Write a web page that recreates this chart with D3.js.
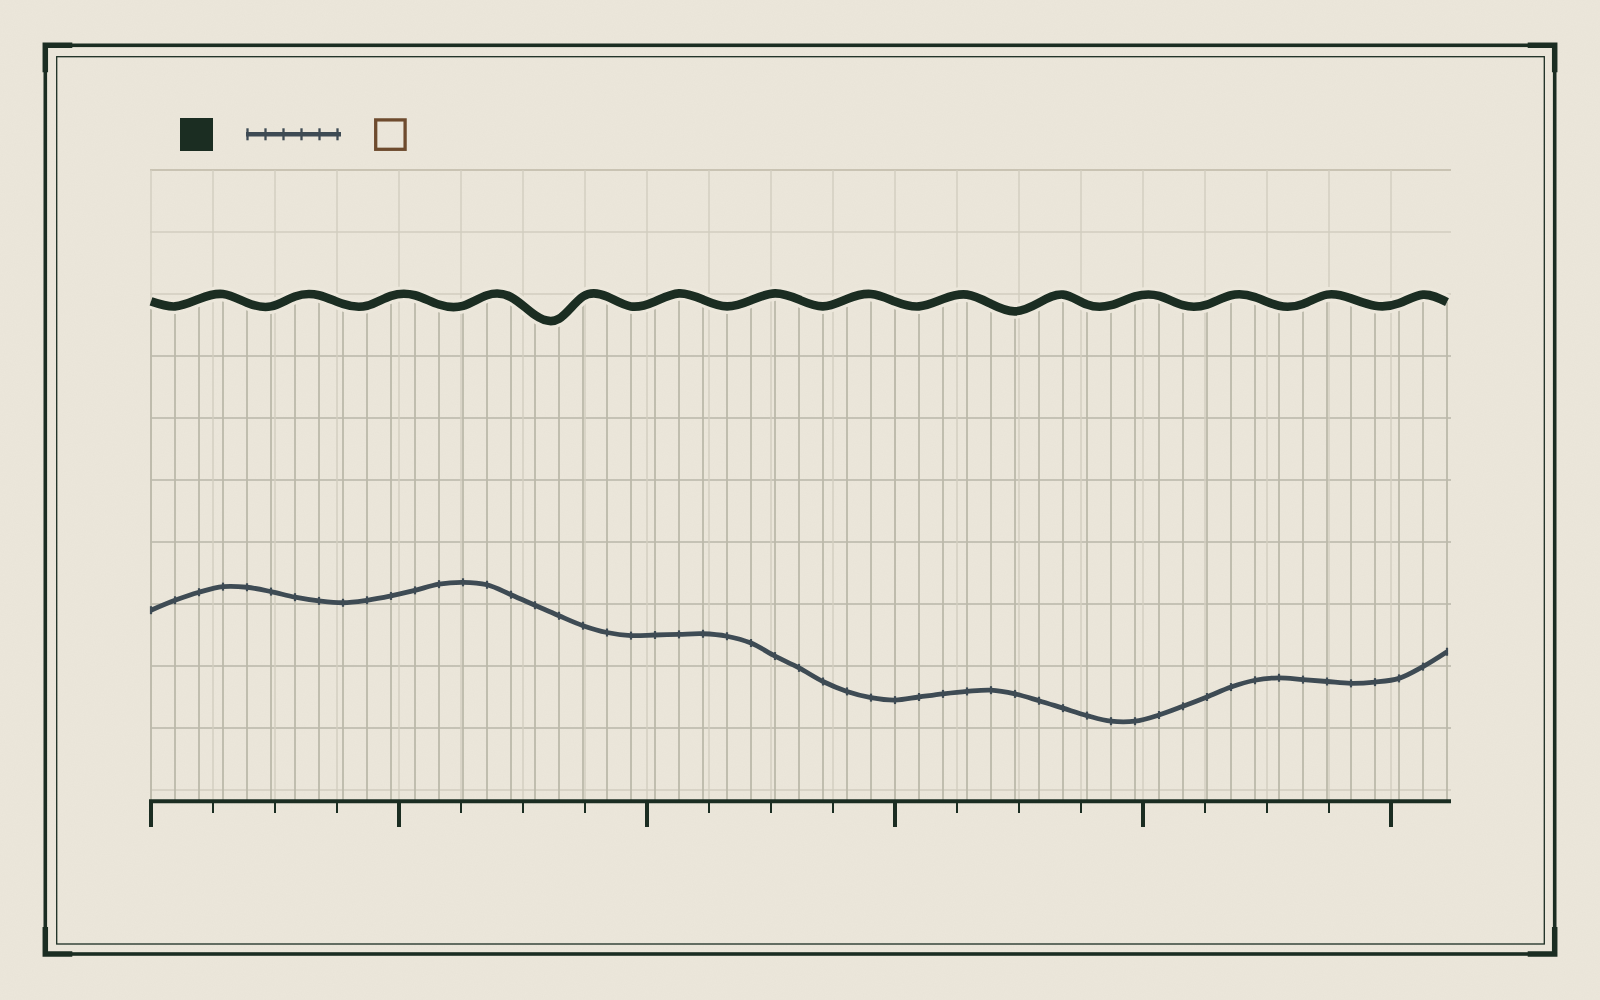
<!DOCTYPE html>
<html><head><meta charset="utf-8">
<script src="https://cdn.jsdelivr.net/npm/d3@7"></script>
<style>html,body{margin:0;padding:0;background:#ebe6da;} svg{display:block}</style>
</head><body>
<svg id="chart" width="1600" height="1000"></svg>
<script>
// ---------- DATA ----------
const pointIndex = d3.range(0, 55);            // 55 samples along x
const darkValues = [78.8,78.0,79.2,80.0,78.6,78.0,79.6,79.8,78.4,78.1,79.7,79.8,78.3,78.1,79.8,
  79.5,76.6,76.0,79.6,79.6,78.0,78.8,80.1,79.1,78.0,79.0,80.1,79.1,78.0,79.2,80.0,78.8,78.0,79.2,
  79.9,78.4,77.2,78.6,79.9,78.3,78.2,79.6,79.7,78.2,78.3,79.8,79.5,78.1,78.4,79.9,79.3,78.1,78.5,79.9,78.7];
const grayValues = [29.0,30.6,31.9,32.8,32.7,32.0,31.1,30.5,30.2,30.6,31.3,32.2,33.2,33.5,33.1,
  31.5,29.8,28.1,26.5,25.4,24.9,25.0,25.1,25.2,24.8,23.7,21.6,19.7,17.5,15.9,14.9,14.5,15.0,15.5,
  15.9,16.1,15.5,14.4,13.2,12.0,11.1,11.1,12.1,13.5,15.0,16.6,17.7,18.1,17.8,17.5,17.2,17.4,18.0,19.9,22.3];
const xTickValues = d3.range(0, 21);
const xMajorTicks = [0, 4, 8, 12, 16, 20];
const yGridValues = d3.range(0, 101, 10);
const legendItems = ["dark", "gray", "brown"];

// ---------- STYLE ----------
const C = {bg:"#ece7db", ink:"#1b2d22", slate:"#3e4b54", brown:"#6e4b2e",
           gridLight:"#d2cdbf", gridDark:"#b9b6a8", drop:"#bcb9aa"};
const plot = {left:150, right:1451, top:170, bottom:800};

const svg = d3.select("#chart");
const defs = svg.append("defs");
const f = defs.append("filter").attr("id","paper").attr("x",0).attr("y",0).attr("width","100%").attr("height","100%");
f.append("feTurbulence").attr("type","fractalNoise").attr("baseFrequency",0.9).attr("numOctaves",2).attr("seed",3).attr("result","n");
f.append("feColorMatrix").attr("in","n").attr("type","matrix")
  .attr("values","0 0 0 0 0.45  0 0 0 0 0.42  0 0 0 0 0.36  0 0 0 0.06 0");
svg.append("rect").attr("width",1600).attr("height",1000).attr("fill",C.bg);
svg.append("rect").attr("width",1600).attr("height",1000).attr("filter","url(#paper)");

// ---------- SCALES ----------
const xIdx = d3.scaleLinear().domain([0, 54]).range([151, 1447]);
const xT = d3.scaleLinear().domain([0, 21]).range([151, 1453]);
const y = d3.scaleLinear().domain([0, 100]).range([790, 170]);

const g = svg.append("g");

// horizontal grid
g.selectAll("line.hg").data(yGridValues).join("line")
  .attr("x1",plot.left).attr("x2",plot.right)
  .attr("y1",d=>y(d)).attr("y2",d=>y(d))
  .attr("stroke",d=> (d===100)?"#c9c3b3":(d>=10 && d<=70 ? C.gridDark : C.gridLight))
  .attr("stroke-width",d=> d===100?2.2:1.4);

// vertical minor grid
g.selectAll("line.vg").data(xTickValues).join("line")
  .attr("x1",d=>xT(d)).attr("x2",d=>xT(d))
  .attr("y1",plot.top).attr("y2",plot.bottom)
  .attr("stroke",C.gridLight).attr("stroke-width",1.4);

// drop lines from dark series
g.selectAll("line.drop").data(pointIndex).join("line")
  .attr("x1",i=>xIdx(i)).attr("x2",i=>xIdx(i))
  .attr("y1",i=>y(darkValues[i])).attr("y2",plot.bottom)
  .attr("stroke",C.drop).attr("stroke-width",1.8);

// gray series
const grayLine = d3.line().x(i=>xIdx(i)).y(i=>y(grayValues[i])).curve(d3.curveCatmullRom.alpha(0.5));
g.append("path").attr("d",grayLine(pointIndex)).attr("fill","none")
  .attr("stroke",C.slate).attr("stroke-width",4.8).attr("stroke-linejoin","round");
g.selectAll("line.gm").data(pointIndex).join("line")
  .attr("x1",i=>xIdx(i)).attr("x2",i=>xIdx(i))
  .attr("y1",i=>y(grayValues[i])-4).attr("y2",i=>y(grayValues[i])+4)
  .attr("stroke",C.slate).attr("stroke-width",2.2);

// dark series with paper halo
const darkLine = d3.line().x(i=>xIdx(i)).y(i=>y(darkValues[i])).curve(d3.curveNatural);
g.append("path").attr("d",darkLine(pointIndex)).attr("fill","none")
  .attr("stroke",C.bg).attr("stroke-width",15).attr("stroke-linejoin","round");
g.append("path").attr("d",darkLine(pointIndex)).attr("fill","none")
  .attr("stroke",C.ink).attr("stroke-width",8.6).attr("stroke-linejoin","round").attr("stroke-linecap","butt");

// x axis
g.append("line").attr("x1",plot.left-1).attr("x2",plot.right).attr("y1",801.3).attr("y2",801.3)
  .attr("stroke",C.ink).attr("stroke-width",4);
g.selectAll("line.tk").data(xTickValues).join("line")
  .attr("x1",d=>xT(d)).attr("x2",d=>xT(d))
  .attr("y1",800).attr("y2",d=> xMajorTicks.includes(d)?827:813)
  .attr("stroke",C.ink).attr("stroke-width",d=> xMajorTicks.includes(d)?4:2);

// legend
const lg = svg.append("g");
lg.append("rect").attr("x",180).attr("y",118).attr("width",33).attr("height",33).attr("fill",C.ink);
lg.append("line").attr("x1",246).attr("x2",341).attr("y1",134.3).attr("y2",134.3).attr("stroke",C.slate).attr("stroke-width",4.6);
lg.selectAll("line.lt").data(d3.range(0,6)).join("line")
  .attr("x1",d=>247.5+18*d).attr("x2",d=>247.5+18*d).attr("y1",128.3).attr("y2",140.3)
  .attr("stroke",C.slate).attr("stroke-width",2.3);
lg.append("rect").attr("x",375.7).attr("y",119.9).attr("width",29.4).attr("height",29.4)
  .attr("fill","none").attr("stroke",C.brown).attr("stroke-width",3.3);

// frame
const fr = svg.append("g").attr("fill","none").attr("stroke",C.ink);
fr.append("rect").attr("x",45.3).attr("y",45.3).attr("width",1509.4).attr("height",908.7).attr("stroke-width",3.6);
fr.append("rect").attr("x",56.7).attr("y",56.7).attr("width",1487.6).attr("height",887.3).attr("stroke-width",1.3);
const L = 27, x0 = 45.3, y0 = 45.3, x1 = 1554.7, y1 = 954;
[[x0,y0,1,1],[x1,y0,-1,1],[x0,y1,1,-1],[x1,y1,-1,-1]].forEach(([cx,cy,sx,sy])=>{
  fr.append("path").attr("d",`M${cx+sx*L},${cy} L${cx},${cy} L${cx},${cy+sy*L}`)
    .attr("stroke-width",5.5).attr("stroke-linecap","butt").attr("stroke-linejoin","miter");
});
</script>
</body></html>
